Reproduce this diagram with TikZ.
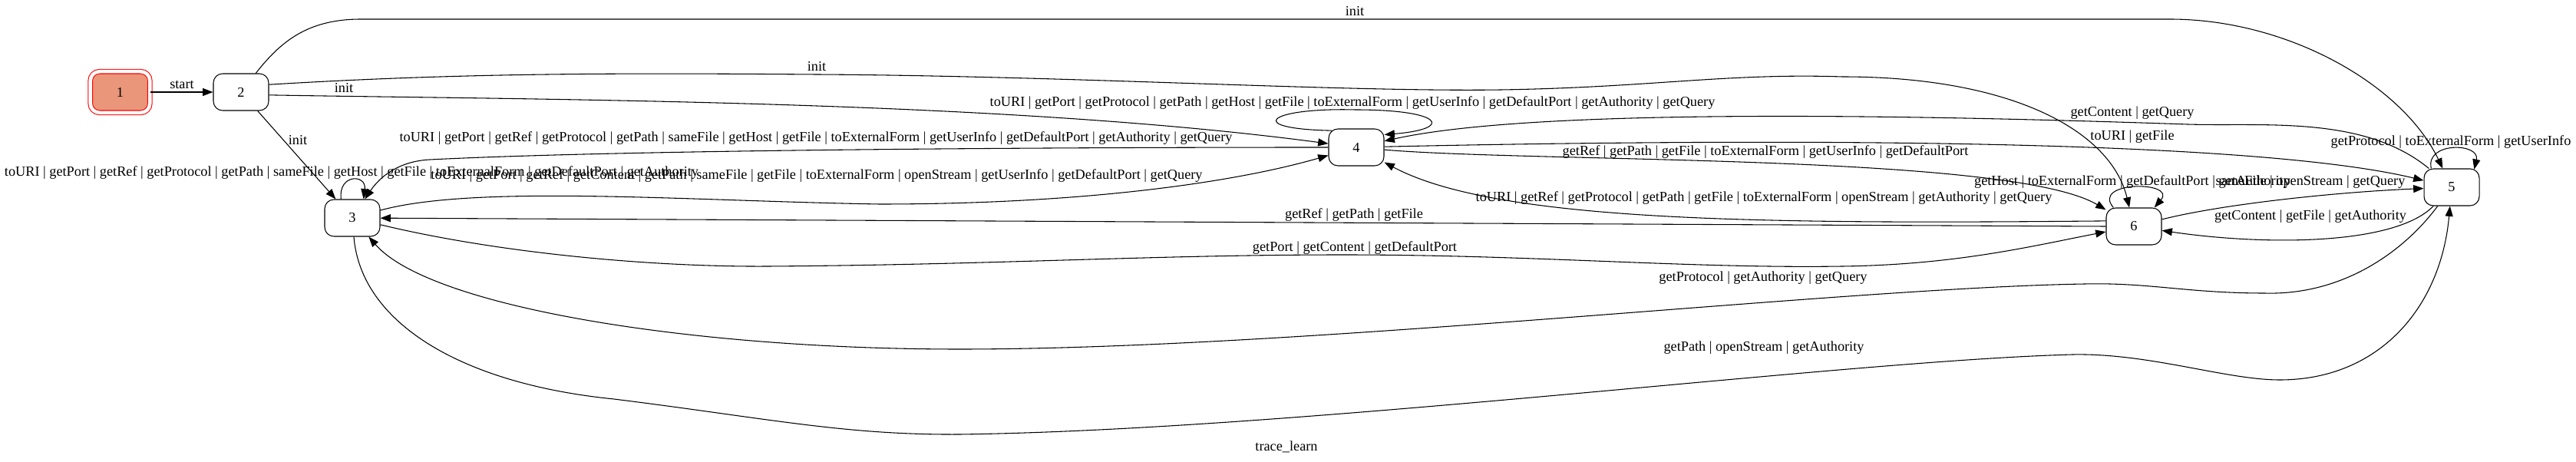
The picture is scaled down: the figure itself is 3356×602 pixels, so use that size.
\documentclass[tikz,border=0pt]{standalone}
\usepackage{fontspec}
\setmainfont{Liberation Serif}
\usetikzlibrary{arrows.meta}
\definecolor{salmonfill}{HTML}{E9967A}

\begin{document}
\begin{tikzpicture}[x=0.75pt, y=-0.75pt,
    state/.style={rectangle, rounded corners=9pt, minimum width=54pt, minimum height=36pt,
                  inner sep=0pt, draw=black, line width=0.8pt, font=\fontsize{13.7}{16}\selectfont},
    initstate/.style={state, fill=salmonfill, draw=red, double=white, double distance=3.4pt,
                  minimum width=58.2pt, minimum height=40.2pt},
    lbl/.style={inner sep=0pt, font=\fontsize{13.7}{16}\selectfont},
    arrow/.style={-{Triangle[length=10pt, width=7.5pt]}, line width=0.8pt}]

    \useasboundingbox (0,0) rectangle (3356,602);

    % States
    \node[initstate] (n1) at (156.5,120) {1};
    \node[state] (n2) at (314,120) {2};
    \node[state] (n3) at (459,284) {3};
    \node[state] (n4) at (1767,192) {4};
    \node[state] (n5) at (3194,244) {5};
    \node[state] (n6) at (2780,295) {6};

    % Transitions from 1 and 2
    \draw[arrow] (n1) -- (n2) node[lbl] at (237,110) {start};
    \draw[arrow] (n2) -- (n3) node[lbl] at (388,183) {init};
    \draw[arrow] (n2.-6) .. controls (700,130) and (1300,130) .. (n4) node[lbl] at (448,115) {init};
    \draw[arrow] (n2.15) .. controls (600,95) and (800,95) .. (1064,97) .. controls (1400,99) and (1750,120) .. (1955,117)
        .. controls (2150,114) and (2250,95) .. (2400,100) .. controls (2620,100) and (2750,170) .. (n6) node[lbl] at (1064,87) {init};
    \draw[arrow] (n2) .. controls (365,55) and (400,25) .. (470,25) -- (2827,25) .. controls (2980,25) and (3130,110) .. (n5) node[lbl] at (1765,15) {init};

    % Self loops
    \draw[arrow] ([xshift=-11pt]n3.north) .. controls +(-4,-33) and +(4,-33) .. ([xshift=11pt]n3.north)
        node[lbl] at (458,225) {toURI | getPort | getRef | getProtocol | getPath | sameFile | getHost | getFile | toExternalForm | getDefaultPort | getAuthority};
    \draw[arrow] ([xshift=-24pt,yshift=-2pt]n4.north) .. controls (1620,168) and (1650,140) .. (1766,143) .. controls (1880,143) and (1895,168) .. ([yshift=-6pt]n4.north east)
        node[lbl] at (1762,134) {toURI | getPort | getProtocol | getPath | getHost | getFile | toExternalForm | getUserInfo | getDefaultPort | getAuthority | getQuery};
    \draw[arrow] ([xshift=-20pt]n5.north) .. controls +(-8,-35) and +(8,-35) .. ([xshift=22pt,yshift=-1pt]n5.north)
        node[lbl] at (3193,185) {getProtocol | toExternalForm | getUserInfo};
    \draw[arrow] ([xshift=-20pt]n6.north) .. controls +(-30,-35) and +(30,-35) .. ([xshift=20pt]n6.north)
        node[lbl] at (2778,237) {getHost | toExternalForm | getDefaultPort | getAuthority};

    % Between 3 and 4
    \draw[arrow] (n4) .. controls (1300,192) and (800,196) .. (560,208) .. controls (520,210) and (495,230) .. (n3)
        node[lbl] at (1063,180) {toURI | getPort | getRef | getProtocol | getPath | sameFile | getHost | getFile | toExternalForm | getUserInfo | getDefaultPort | getAuthority | getQuery};
    \draw[arrow] (n3) .. controls (620,240) and (900,262) .. (1146,266) .. controls (1400,266) and (1600,240) .. (n4)
        node[lbl] at (1064,229) {toURI | getPort | getRef | getContent | getPath | sameFile | getFile | toExternalForm | openStream | getUserInfo | getDefaultPort | getQuery};

    % From 4
    \draw[arrow] (n4) .. controls (2400,178) and (2950,185) .. (n5) node[lbl] at (2778,178) {toURI | getFile};
    \draw[arrow] (n4) .. controls (2000,212) and (2620,200) .. (n6)
        node[lbl] at (2300,198) {getRef | getPath | getFile | toExternalForm | getUserInfo | getDefaultPort};

    % From 5 and 6
    \draw[arrow] (n5) .. controls (3080,150) and (2950,165) .. (2850,162) .. controls (2500,150) and (2000,140) .. (n4)
        node[lbl] at (2778,147) {getContent | getQuery};
    \draw[arrow] (n6.169) .. controls (2300,292) and (1950,290) .. (n4)
        node[lbl] at (2298,258) {toURI | getRef | getProtocol | getPath | getFile | toExternalForm | openStream | getAuthority | getQuery};
    \draw[arrow] (n6.west) -- (n3) node[lbl] at (1764,280) {getRef | getPath | getFile};
    \draw[arrow] (n6) .. controls (2900,265) and (3050,250) .. (n5) node[lbl] at (3010,237) {sameFile | openStream | getQuery};
    \draw[arrow] (n5) .. controls (3120,320) and (2950,320) .. (n6) node[lbl] at (3010,282) {getContent | getFile | getAuthority};

    % Long ones below
    \draw[arrow] (n3) .. controls (650,330) and (850,348) .. (1000,347) .. controls (1300,345) and (1500,332) .. (1750,332)
        .. controls (2000,332) and (2200,350) .. (2400,347) .. controls (2550,345) and (2650,320) .. (n6)
        node[lbl] at (1765,323) {getPort | getContent | getDefaultPort};
    \draw[arrow] (n5) .. controls (3130,330) and (3050,385) .. (2950,382) .. controls (2850,382) and (2800,368) .. (2716,370)
        .. controls (2400,375) and (1700,455) .. (1250,455) .. controls (900,455) and (560,400) .. (n3)
        node[lbl] at (2297,362) {getProtocol | getAuthority | getQuery};
    \draw[arrow] (n3) .. controls (470,420) and (600,500) .. (800,520) .. controls (1000,545) and (1100,567) .. (1250,566)
        .. controls (1700,560) and (2400,470) .. (2700,462) .. controls (2800,460) and (2900,495) .. (2970,495)
        .. controls (3100,495) and (3180,400) .. (n5)
        node[lbl] at (2298,453) {getPath | openStream | getAuthority};

    % Graph label
    \node[lbl] (title) at (1676,582) {trace\_learn};

\end{tikzpicture}
\end{document}
